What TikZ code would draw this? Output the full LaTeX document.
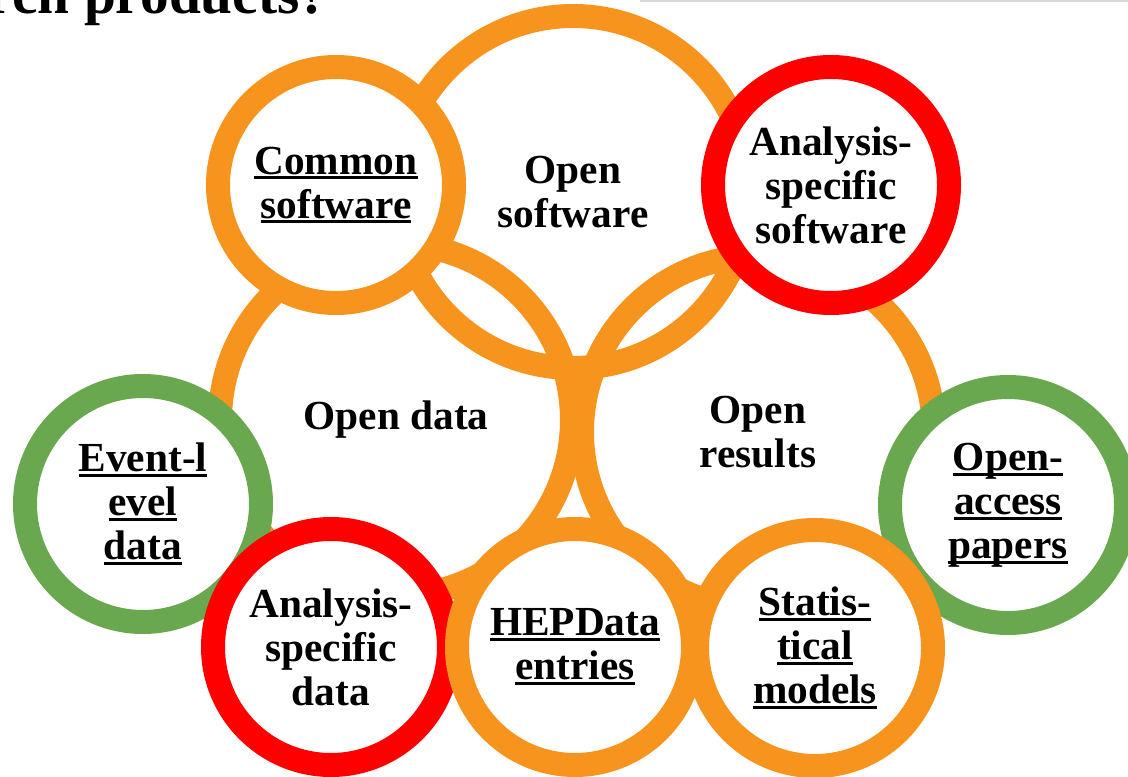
\documentclass[tikz,border=0pt]{standalone}
\usepackage{fontspec}
\setmainfont{Liberation Serif}
\usepackage{xcolor}

\definecolor{ringorange}{RGB}{247,148,30}
\definecolor{ringred}{RGB}{255,0,0}
\definecolor{ringgreen}{RGB}{106,168,79}

% 带粗下划线的词
\newcommand\ulword[1]{\setbox0=\hbox{#1}\rlap{\rule[-4pt]{\wd0}{2.2pt}}\box0}

\begin{document}
\begin{tikzpicture}[x=0.75pt,y=-0.75pt,
  every node/.style={align=center, font=\fontsize{31}{33}\selectfont\bfseries},
  bigring/.style={circle, draw=ringorange, line width=18pt,
    minimum size=264pt, inner sep=0pt},
  smallring/.style={circle, fill=white, line width=18pt,
    minimum size=177pt, inner sep=0pt}]
  \clip (0,0) rectangle (1128,777);
  % 标题只露出下半截
  \node[anchor=base east, font=\fontsize{43}{43}\selectfont\bfseries]
    (title) at (333,14) {research products?};
  \draw[black!15, line width=1.2pt] (640,0.8) -- (1128,0.8);
  % 三个大圆, 不填充
  \node[bigring] (opensw) at (573,192) {Open\\software};
  \node[bigring] (opendata) at (396,420) {Open data};
  \node[bigring] (openres) at (758,432) {Open\\results};
  % 小圆: 先绿, 再红, 最后橙
  \node[smallring, draw=ringgreen] (eventdata) at (143,504)
    {\ulword{Event-l}\\\ulword{evel}\\\ulword{data}};
  \node[smallring, draw=ringgreen] (oapapers) at (1008,505)
    {\ulword{Open-}\\\ulword{access}\\\ulword{papers}};
  \node[smallring, draw=ringred] (anasw) at (831,185)
    {Analysis-\\specific\\software};
  \node[smallring, draw=ringred] (anadata) at (331,647)
    {Analysis-\\specific\\data};
  \node[smallring, draw=ringorange] (commonsw) at (336,185)
    {\ulword{Common}\\\ulword{software}};
  \node[smallring, draw=ringorange] (hepdata) at (575,647)
    {\ulword{HEPData}\\\ulword{entries}};
  \node[smallring, draw=ringorange] (statmodels) at (815,648)
    {\ulword{Statis-}\\\ulword{tical}\\\ulword{models}};
\end{tikzpicture}
\end{document}
